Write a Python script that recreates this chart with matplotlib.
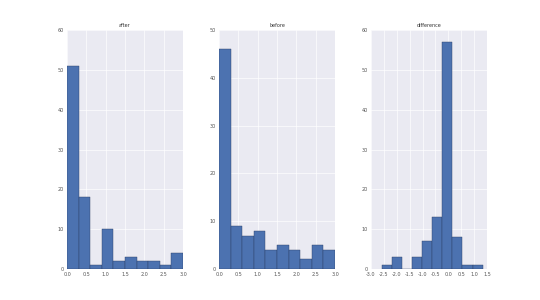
import numpy as np
import matplotlib
matplotlib.use("Agg")
import matplotlib.pyplot as plt

# histogram counts (10 bins each)
after_edges = np.linspace(0.0, 3.0, 11)
after_counts = [51, 18, 1, 10, 2, 3, 2, 2, 1, 4]

before_edges = np.linspace(0.0, 3.0, 11)
before_counts = [46, 9, 7, 8, 4, 5, 4, 2, 5, 4]

diff_edges = np.linspace(-2.58, 1.33, 11)
diff_counts = [1, 3, 0, 3, 7, 13, 57, 8, 1, 1]

titles = ["after", "before", "difference"]
xlims = [(0.0, 3.0), (0.0, 3.0), (-3.0, 1.5)]
ylims = [(0, 60), (0, 50), (0, 60)]

plt.rcParams.update({
    "font.family": "DejaVu Sans",
    "font.size": 3.5,
    "axes.facecolor": "#EAEAF2",
    "axes.edgecolor": "white",
    "axes.grid": True,
    "grid.color": "white",
    "grid.linewidth": 0.45,
    "xtick.color": "#555555",
    "ytick.color": "#555555",
    "xtick.major.size": 0,
    "ytick.major.size": 0,
    "xtick.major.pad": 2,
    "ytick.major.pad": 2,
})

fig = plt.figure(figsize=(5.4, 3.0), dpi=100)
lefts = [67, 219, 371]
width = 116
bottom, top = 269, 30
data = [(after_edges, after_counts), (before_edges, before_counts), (diff_edges, diff_counts)]

for k, (edges, counts) in enumerate(data):
    ax = fig.add_axes([lefts[k] / 540, 1 - bottom / 300, width / 540, (bottom - top) / 300])
    ax.set_axisbelow(True)
    ax.bar(edges[:-1], counts, width=np.diff(edges), align="edge",
           color="#4C72B0", edgecolor="#2b3f63", linewidth=0.3)
    ax.set_xlim(*xlims[k])
    ax.set_ylim(*ylims[k])
    ax.set_xticks(np.arange(xlims[k][0], xlims[k][1] + 0.01, 0.5))
    ax.set_xticklabels([f"{v:.1f}" for v in ax.get_xticks()])
    ax.set_yticks(np.arange(0, ylims[k][1] + 1, 10))
    ax.set_title(titles[k], fontsize=3.5, pad=2, color="#333333")
    for s in ax.spines.values():
        s.set_visible(False)

fig.savefig("out.png", dpi=100, facecolor="white")
